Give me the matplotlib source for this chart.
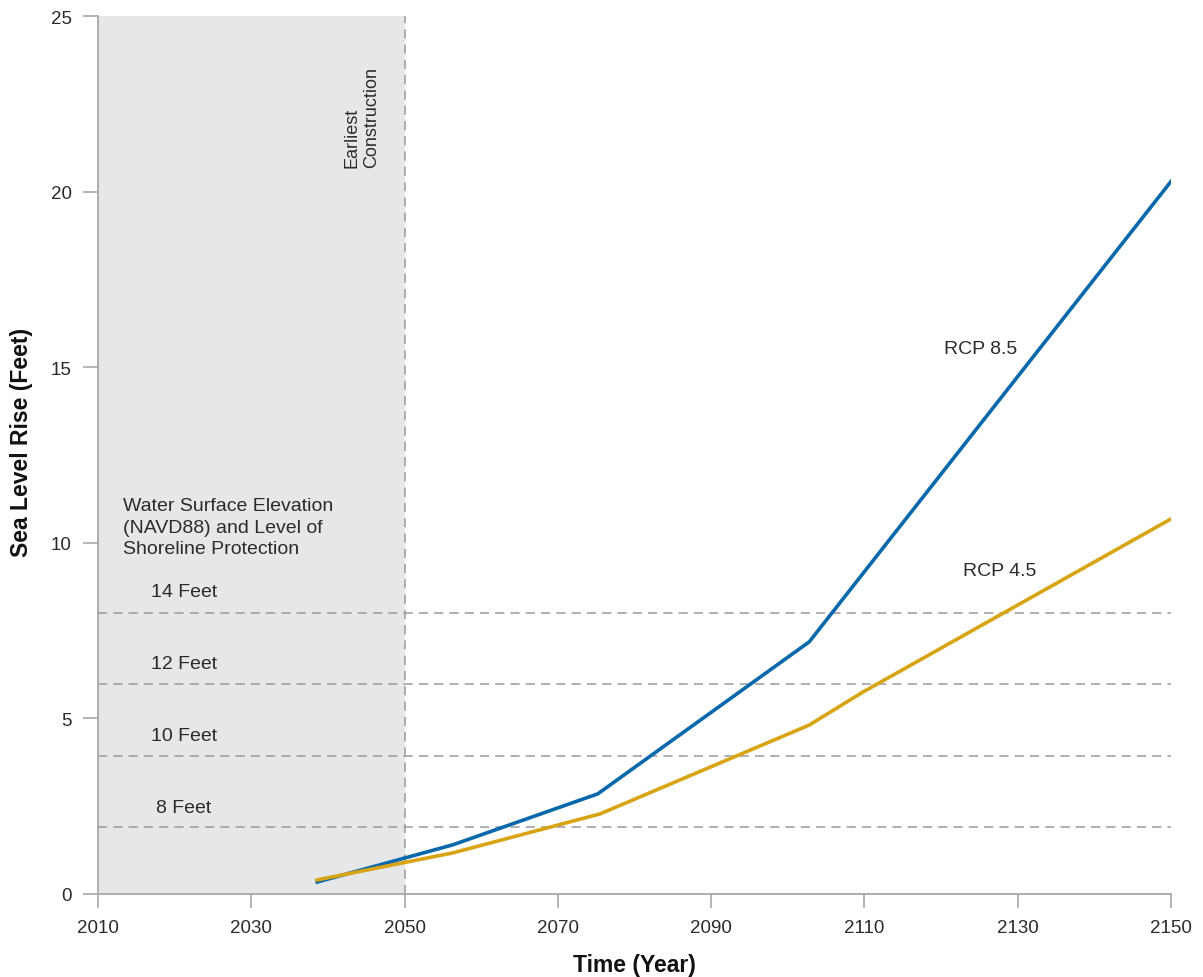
import matplotlib.pyplot as plt
import numpy as np

# Sea level rise projections (feet)
years_85 = [2038.6, 2056.3, 2075.2, 2102.8, 2150]
rise_85 = [0.34, 1.40, 2.85, 7.18, 20.29]

years_45 = [2038.6, 2056.3, 2075.5, 2102.8, 2109.8, 2150]
rise_45 = [0.40, 1.17, 2.28, 4.81, 5.75, 10.68]

# Shoreline protection levels (NAVD88)
protect_levels = [1.9, 3.93, 5.97, 8.0]
protect_labels = ["8 Feet", "10 Feet", "12 Feet", "14 Feet"]

x_ticks = [2010, 2030, 2050, 2070, 2090, 2110, 2130, 2150]
y_ticks = [0, 5, 10, 15, 20, 25]
construction_year = 2050

plt.rcParams["font.family"] = ["Liberation Sans", "DejaVu Sans"]

blue = "#0868ac"
gold = "#d8a413"
grid_grey = "#9a9a9a"
text_col = "#2b2b2b"

fig = plt.figure(figsize=(12.03, 9.78), dpi=100)
ax = fig.add_axes([0.0815, 0.0849, 0.8919, 0.8977])

ax.axvspan(2010, construction_year, color="#e6e7e9", zorder=0, lw=0)
ax.axvline(construction_year, color=grid_grey, lw=1.1, ls=(0, (6, 4)), zorder=1)
for lvl in protect_levels:
    ax.axhline(lvl, color=grid_grey, lw=1.1, ls=(0, (6, 4)), zorder=1)

ax.plot(years_85, rise_85, color=blue, lw=2.6, solid_joinstyle="miter", zorder=3)
ax.plot(years_45, rise_45, color=gold, lw=2.6, solid_joinstyle="miter", zorder=4)

# annotations
ax.text(2013.3, 11.3, "Water Surface Elevation\n(NAVD88) and Level of\nShoreline Protection",
        ha="left", va="top", fontsize=14, color=text_col, linespacing=1.35)
label_y = [2.45, 4.5, 6.55, 8.6]
for y, lab in zip(label_y, protect_labels):
    ax.text(2021.2, y, lab, ha="center", va="center", fontsize=14, color=text_col)

ax.text(2044.4, 20.7, "Earliest\nConstruction", rotation=90, ha="center", va="bottom",
        multialignment="left", fontsize=13, color=text_col, linespacing=1.25)

ax.text(2120.4, 15.52, "RCP 8.5", ha="left", va="center", fontsize=14, color=text_col)
ax.text(2122.9, 9.2, "RCP 4.5", ha="left", va="center", fontsize=14, color=text_col)

ax.set_xlim(2010, 2150)
ax.set_ylim(0, 25)
ax.set_xticks(x_ticks)
ax.set_yticks(y_ticks)
ax.tick_params(axis="both", colors="#a0a0a0", labelcolor=text_col, labelsize=13.5, width=1.1)
ax.tick_params(axis="y", length=11, pad=8)
ax.tick_params(axis="x", length=10, pad=8)

for side in ["top", "right"]:
    ax.spines[side].set_visible(False)
for side in ["left", "bottom"]:
    ax.spines[side].set_color("#a8a8a8")
    ax.spines[side].set_linewidth(1.3)

ax.set_xlabel("Time (Year)", fontsize=16.5, fontweight="bold", color="#111111", labelpad=12)
ax.set_ylabel("Sea Level Rise (Feet)", fontsize=16.5, fontweight="bold", color="#111111")
ax.yaxis.set_label_coords(-0.061, 0.516)

fig.savefig("out.png", dpi=100, facecolor="white")
